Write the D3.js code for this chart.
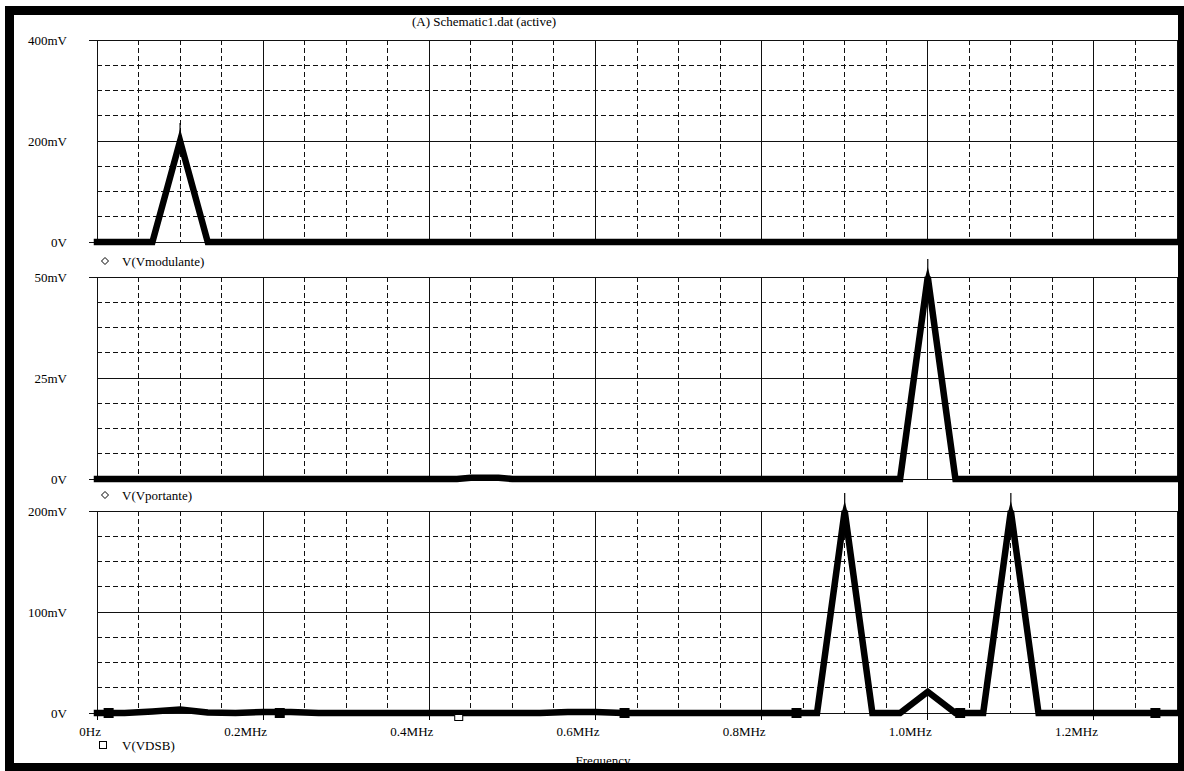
<!DOCTYPE html>
<html><head><meta charset="utf-8">
<script src="https://cdn.jsdelivr.net/npm/d3@7"></script>
<style>html,body{margin:0;padding:0;background:#fff;}svg{display:block;}</style>
</head><body>
<svg id="c" width="1184" height="771"></svg>
<script>
// ---- data ----
const titleText = "(A) Schematic1.dat (active)";
const xTickValues = [0, 0.2, 0.4, 0.6, 0.8, 1.0, 1.2];
const xTickLabels = ["0Hz", "0.2MHz", "0.4MHz", "0.6MHz", "0.8MHz", "1.0MHz", "1.2MHz"];
const xDomainMHz = [0, 1.3];

const modulanteMHz = [0, 0.0667, 0.1, 0.1333, 1.3];
const modulanteMV  = [0, 0, 200, 0, 0];

const portanteMHz = [0, 0.4333, 0.45, 0.4833, 0.5, 0.9667, 1.0, 1.0333, 1.3];
const portanteMV  = [0, 0, 0.3, 0.3, 0, 0, 50, 0, 0];

const vdsbMHz = [0, 0.0333, 0.0667, 0.1, 0.1333, 0.1667, 0.2, 0.2333, 0.2667, 0.5333, 0.5667, 0.6, 0.6333, 0.8667, 0.9, 0.9333, 0.9667, 1.0, 1.0333, 1.0667, 1.1, 1.1333, 1.3];
const vdsbMV  = [0, 0, 1.5, 3.5, 0.5, 0, 1, 1, 0, 0, 1, 1, 0, 0, 200, 0, 0, 21, 0, 0, 200, 0, 0];
const vdsbMarkerMHz = [0.014, 0.22, 0.635, 0.842, 1.039, 1.274];
const vdsbHollowMarkerMHz = [0.43];

const panels = [
  {legend: null, max: 400, ticks: [0, 200, 400], labels: ["0V", "200mV", "400mV"], xs: modulanteMHz, ys: modulanteMV},
  {legend: "V(Vmodulante)", max: 50, ticks: [0, 25, 50], labels: ["0V", "25mV", "50mV"], xs: portanteMHz, ys: portanteMV},
  {legend: "V(Vportante)", max: 200, ticks: [0, 100, 200], labels: ["0V", "100mV", "200mV"], xs: vdsbMHz, ys: vdsbMV}
];

// ---- layout ----
const svg = d3.select("#c");
const W = 1184, H = 771;
const left = 97, right = 1177;
const panelBoxes = [[40, 242], [277, 479], [511, 713]];
const font = "'Liberation Serif', 'Times New Roman', serif";
const fs = 13;

svg.append("rect").attr("width", W).attr("height", H).attr("fill", "#fff");

const x = d3.scaleLinear().domain(xDomainMHz).range([left, right]);
const gridX = d3.range(0, 1.3 + 1e-9, 0.05);

panels.forEach((p, i) => {
  const [top, bot] = panelBoxes[i];
  const y = d3.scaleLinear().domain([0, p.max]).range([bot, top]);
  const g = svg.append("g");
  // vertical grid
  gridX.forEach(f => {
    const k = Math.round(f / 0.05);
    const solid = (k % 4 === 0) || k === 26;
    g.append("line").attr("x1", x(f)).attr("x2", x(f)).attr("y1", top).attr("y2", bot)
      .attr("stroke", "#111").attr("stroke-width", 1)
      .attr("stroke-dasharray", solid ? null : "5,3").attr("shape-rendering", "crispEdges");
  });
  // horizontal grid
  d3.range(0, 9).forEach(k => {
    const v = p.max * k / 8;
    const solid = k % 4 === 0;
    g.append("line").attr("x1", (k === 0 || k === 8) ? left - 8 : left).attr("x2", right).attr("y1", y(v)).attr("y2", y(v))
      .attr("stroke", "#111").attr("stroke-width", 1)
      .attr("stroke-dasharray", solid ? null : "5,3").attr("shape-rendering", "crispEdges");
  });
  // y labels
  p.ticks.forEach((t, j) => {
    g.append("text").attr("x", 67).attr("y", y(t)).attr("dy", "0.35em")
      .attr("text-anchor", "end").attr("font-family", font).attr("font-size", fs)
      .text(p.labels[j]);
  });
  // trace
  const pts = p.xs.map((f, j) => [f, p.ys[j]]);
  g.append("path").datum(pts)
    .attr("d", d3.line().x(d => x(d[0])).y(d => y(d[1])))
    .attr("fill", "none").attr("stroke", "#000").attr("stroke-width", 6.5)
    .attr("stroke-linejoin", "miter").attr("stroke-miterlimit", 4).attr("stroke-linecap", "square");
  // peak tips (thin spike above major peaks, as drawn by the original)
  pts.forEach((d, j) => {
    if (j === 0 || j === pts.length - 1) return;
    if (d[1] > pts[j - 1][1] && d[1] > pts[j + 1][1] && d[1] >= p.max / 2) {
      const px = x(d[0]), py = y(d[1]);
      g.append("path").attr("d", `M${px - 3},${py + 2}L${px},${py - 10}L${px + 3},${py + 2}Z`).attr("fill", "#000");
      g.append("line").attr("x1", px).attr("x2", px).attr("y1", py).attr("y2", py - 18)
        .attr("stroke", "#000").attr("stroke-width", 1.2);
    }
  });
  // legend above panel
  if (p.legend) {
    const ly = top - 16;
    g.append("path").attr("d", "M0,-3.5L3.5,0L0,3.5L-3.5,0Z")
      .attr("transform", `translate(105,${ly})`).attr("fill", "none").attr("stroke", "#000").attr("stroke-width", 1);
    g.append("text").attr("x", 122).attr("y", ly).attr("dy", "0.35em")
      .attr("font-family", font).attr("font-size", fs).text(p.legend);
  }
  if (i === 2) {
    vdsbMarkerMHz.forEach(f => {
      g.append("rect").attr("x", x(f) - 5).attr("y", y(0) - 5).attr("width", 10).attr("height", 10).attr("fill", "#000");
    });
    vdsbHollowMarkerMHz.forEach(f => {
      g.append("rect").attr("x", x(f) + 0.5).attr("y", y(0) + 1.5).attr("width", 8).attr("height", 6)
        .attr("fill", "#fff").attr("stroke", "#000").attr("stroke-width", 1);
    });
  }
});

// x axis ticks & labels
const axisY = panelBoxes[2][1];
xTickValues.forEach((f, j) => {
  svg.append("line").attr("x1", x(f)).attr("x2", x(f)).attr("y1", axisY).attr("y2", axisY + 7)
    .attr("stroke", "#000").attr("shape-rendering", "crispEdges");
  svg.append("text").attr("x", x(f) + 4).attr("y", axisY + 18).attr("dy", "0.35em")
    .attr("text-anchor", "end").attr("font-family", font).attr("font-size", fs).text(xTickLabels[j]);
});

// bottom legend
svg.append("rect").attr("x", 99.5).attr("y", 741.5).attr("width", 7).attr("height", 7)
  .attr("fill", "none").attr("stroke", "#000");
svg.append("text").attr("x", 122).attr("y", 745).attr("dy", "0.35em")
  .attr("font-family", font).attr("font-size", fs).text("V(VDSB)");

// x title
svg.append("text").attr("x", 603).attr("y", 765)
  .attr("text-anchor", "middle").attr("font-family", font).attr("font-size", fs).text("Frequency");

// title
svg.append("text").attr("x", 484).attr("y", 21).attr("dy", "0.35em")
  .attr("text-anchor", "middle").attr("font-family", font).attr("font-size", fs).text(titleText);

// frame
svg.append("path")
  .attr("d", `M5,6H${W}V${H}H5Z M14,15V763H1178V15Z`)
  .attr("fill", "#000").attr("fill-rule", "evenodd");
</script>
</body></html>
